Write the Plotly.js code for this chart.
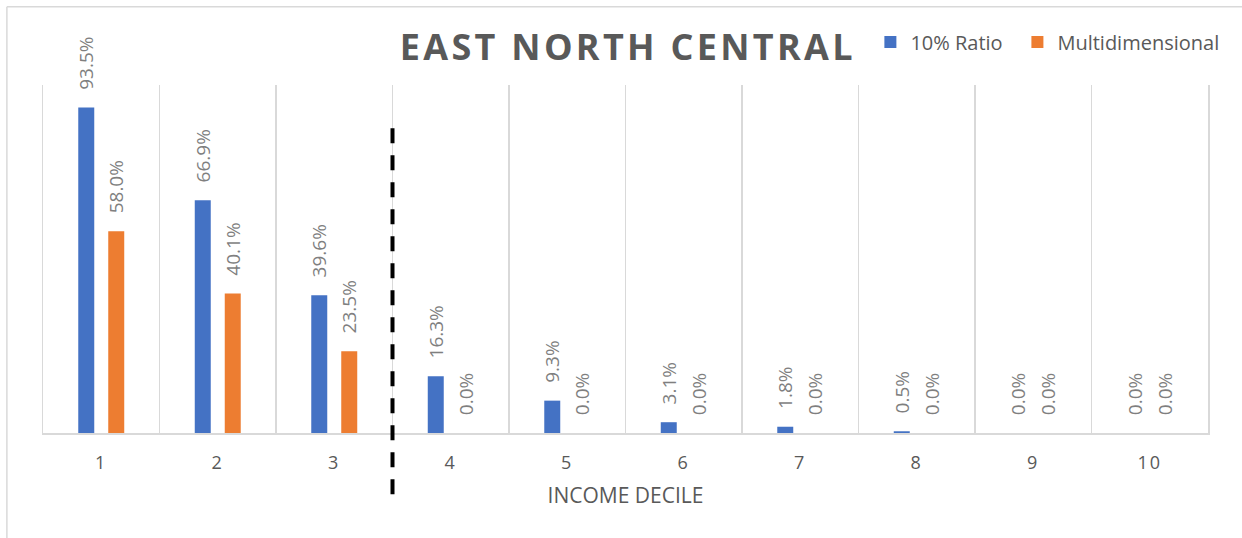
<!DOCTYPE html>
<html>
<head>
<meta charset="utf-8">
<script src="https://cdn.plot.ly/plotly-3.0.1.min.js"></script>
<style>
html,body{margin:0;padding:0;background:#fff;}
#chart{width:1242px;height:538px;}
.gtitle{letter-spacing:3.3px;}
.xtick text{letter-spacing:2px;}
</style>
</head>
<body>
<div id="chart"></div>
<script>
const categories = ['1','2','3','4','5','6','7','8','9','10'];
const ratio10 = [0.935, 0.669, 0.396, 0.163, 0.093, 0.031, 0.018, 0.005, 0.0, 0.0];
const multidim = [0.580, 0.401, 0.235, 0.0, 0.0, 0.0, 0.0, 0.0, 0.0, 0.0];
const seriesNames = ['10% Ratio', 'Multidimensional'];
const titleText = 'EAST NORTH CENTRAL';
const xTitle = 'INCOME DECILE';

const pad = '\u00a0\u00a0\u00a0';
function labels(arr){ return arr.map(v => pad + (v*100).toFixed(1) + '%'); }

const labelFont = {family: 'Open Sans, sans-serif', size: 19, color: '#7f7f7f'};

const traces = [
  {type:'bar', name: seriesNames[0], x: categories, y: ratio10, legend:'legend',
   marker:{color:'#4472c4'}, text: labels(ratio10), textposition:'outside',
   textangle:-90, constraintext:'none', cliponaxis:false, textfont: labelFont,
   hoverinfo:'skip'},
  {type:'bar', name: seriesNames[1], x: categories, y: multidim, legend:'legend2',
   marker:{color:'#ed7d31'}, text: labels(multidim), textposition:'outside',
   textangle:-90, constraintext:'none', cliponaxis:false, textfont: labelFont,
   hoverinfo:'skip'}
];

const legendFont = {size:20, color:'#595959'};
const layout = {
  width:1242, height:538,
  margin:{l:43, r:34, t:85, b:105, autoexpand:false},
  paper_bgcolor:'#ffffff', plot_bgcolor:'#ffffff',
  barmode:'group', bargap:0.485, bargroupgap:0.467,
  font:{family:'Open Sans, sans-serif', color:'#595959'},
  title:{text:'<b>'+titleText+'</b>', x:0.502, xref:'paper', y:0.911, yanchor:'middle',
         font:{family:'Open Sans, sans-serif', size:36, color:'#595959'}},
  showlegend:true,
  legend:{orientation:'h', x:0.7102, xanchor:'left', y:1.1236, yanchor:'middle',
          font:legendFont, itemwidth:30, bgcolor:'rgba(0,0,0,0)'},
  legend2:{orientation:'h', x:0.8364, xanchor:'left', y:1.1236, yanchor:'middle',
          font:legendFont, itemwidth:30, bgcolor:'rgba(0,0,0,0)'},
  xaxis:{type:'category', tickson:'boundaries', showgrid:true, gridcolor:'#d9d9d9', gridwidth:1.5,
         ticks:'', showline:true, linecolor:'#d9d9d9', linewidth:2,
         tickfont:{size:18, color:'#595959'}, ticklabelstandoff:12,
         title:{text:xTitle, font:{size:21, color:'#595959'}, standoff:16}},
  yaxis:{range:[0,1], showgrid:false, zeroline:false, showticklabels:false, ticks:'',
         showline:true, mirror:true, linecolor:'#d9d9d9', linewidth:1.5},
  shapes:[
    {type:'line', xref:'x', yref:'paper', x0:2.5, x1:2.5, y0:0.876, y1:-0.184,
     line:{color:'#000000', width:4, dash:'15px,12px'}},
    {type:'line', xref:'paper', yref:'paper', x0:-0.031, x1:-0.031, y0:1.225, y1:-0.302,
     line:{color:'#d9d9d9', width:1.5}},
    {type:'line', xref:'paper', yref:'paper', x0:-0.031, x1:1.03, y0:1.225, y1:1.225,
     line:{color:'#d9d9d9', width:1.5}}
  ]
};

Plotly.newPlot('chart', traces, layout, {displayModeBar:false, staticPlot:true});
</script>
</body>
</html>
